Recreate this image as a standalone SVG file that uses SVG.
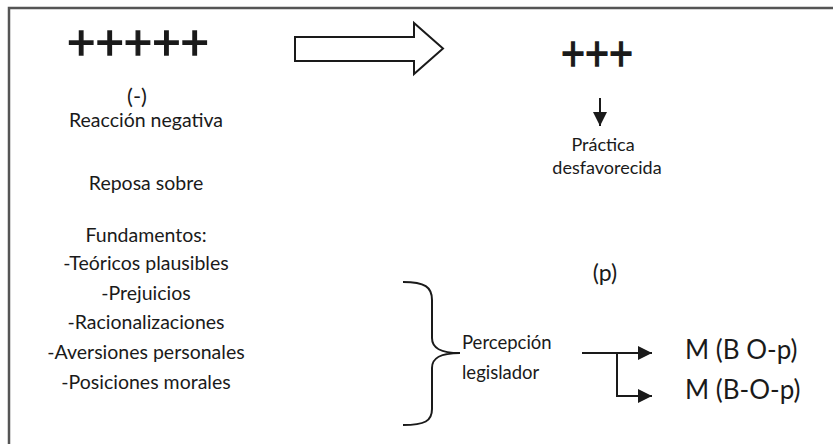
<svg xmlns="http://www.w3.org/2000/svg" width="833" height="444" viewBox="0 0 833 444">
<defs>
<style>
text{font-family:Lato,"Noto Sans",sans-serif;fill:#1a1a1a;}
.t{font-size:19.5px;text-anchor:middle;}
.big{font-size:26px;}
.plus{font-size:48px;text-anchor:middle;stroke:#1a1a1a;stroke-width:1.3;}
.ln{stroke:#1a1a1a;stroke-width:2;fill:none;}
.frame{stroke:#555;stroke-width:2.5;fill:none;}
</style>
<marker id="ah" viewBox="0 0 10 10" refX="10" refY="5" markerWidth="14" markerHeight="14" markerUnits="userSpaceOnUse" orient="auto">
<path d="M0,0 L10,5 L0,10 Z" fill="#1a1a1a"/>
</marker>
</defs>
<rect width="833" height="444" fill="#fff"/>
<path class="frame" d="M9,444 V8 H833"/>
<g id="left">
<text class="plus" x="138" y="59" textLength="142" lengthAdjust="spacingAndGlyphs">+++++</text>
<text class="t" x="137" y="104" style="font-size:22px">(-)</text>
<text class="t" x="146" y="127">Reacción negativa</text>
<text class="t" x="146" y="190">Reposa sobre</text>
<text class="t" x="146" y="242">Fundamentos:</text>
<text class="t" x="146" y="270">-Teóricos plausibles</text>
<text class="t" x="146" y="300">-Prejuicios</text>
<text class="t" x="146" y="329">-Racionalizaciones</text>
<text class="t" x="146" y="359">-Aversiones personales</text>
<text class="t" x="146" y="389">-Posiciones morales</text>
</g>
<g id="bigarrow">
<path d="M295,37 H414 V23 L443,48.5 L414,74 V61 H295 Z" fill="#fff" stroke="#1a1a1a" stroke-width="2"/>
</g>
<g id="right">
<text class="plus" x="597" y="70" textLength="72" lengthAdjust="spacingAndGlyphs">+++</text>
<text class="t" x="603" y="151" style="font-size:18px">Práctica</text>
<text class="t" x="607" y="174" style="font-size:18px">desfavorecida</text>
<text class="t" x="605" y="281" style="font-size:23px">(p)</text>
</g>
<g id="brace">
<path class="ln" d="M403,282 C425,282 432,287 432,300 V338 C432,348 440,353 460,353 C440,353 432,358 432,368 V409 C432,421 425,425 403,425"/>
</g>
<g id="percepcion">
<text x="462" y="349" style="font-size:18.5px">Percepción</text>
<text x="462" y="379" style="font-size:18.5px">legislador</text>
</g>
<g id="m1"><text x="685" y="359" class="big">M (B O-p)</text></g>
<g id="m2"><text x="685" y="399" class="big">M (B-O-p)</text></g>
<g id="connectors">
<line class="ln" x1="600" y1="98" x2="600" y2="126" marker-end="url(#ah)"/>
<path class="ln" d="M582,353 H652" marker-end="url(#ah)"/>
<path class="ln" d="M617,353 V396 H652" marker-end="url(#ah)"/>
</g>
</svg>
